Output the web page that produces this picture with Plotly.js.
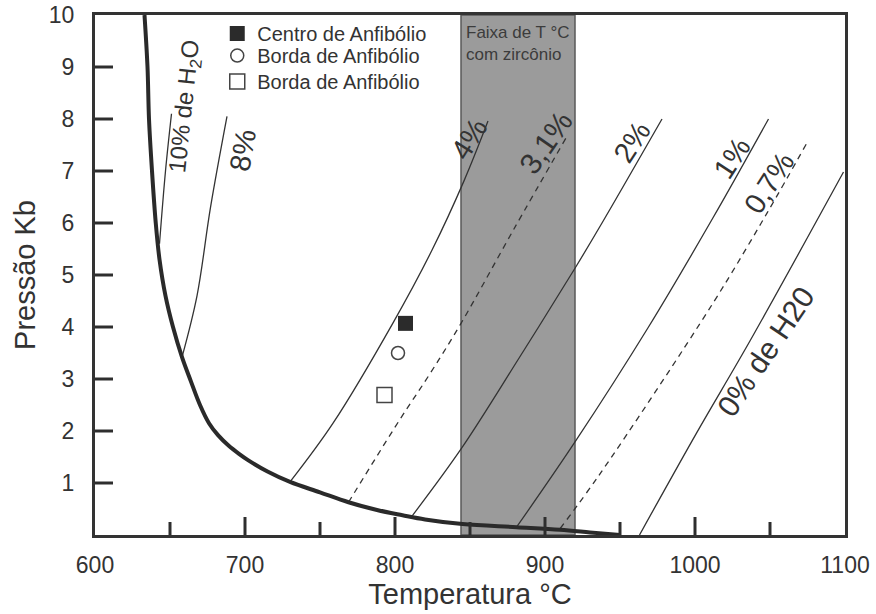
<!DOCTYPE html>
<html>
<head>
<meta charset="utf-8">
<script src="https://cdn.plot.ly/plotly-3.0.1.min.js"></script>
<style>
  html, body { margin: 0; padding: 0; background: #ffffff; }
  #chart { width: 876px; height: 614px; }
</style>
</head>
<body>
<div id="chart"></div>
<script>
// ---- Data (Temperature °C, Pressure kb) ----
const solidusT = [633, 635, 636, 638, 640.5, 643, 647, 652, 658, 664, 670, 676, 682, 689, 696, 702, 715, 730, 750, 769, 788, 805, 820, 845, 881, 910, 930, 950];
const solidusP = [10, 9, 8, 7, 6, 5.3, 4.6, 4.0, 3.42, 2.95, 2.5, 2.15, 1.92, 1.72, 1.56, 1.44, 1.22, 1.02, 0.82, 0.63, 0.48, 0.38, 0.30, 0.21, 0.15, 0.10, 0.05, 0];

const h10T = [643, 647, 651];
const h10P = [5.6, 7.0, 8.1];
const h8T = [658, 668, 677, 688];
const h8P = [3.42, 4.6, 6.3, 8.05];
const h4T = [730, 758.7, 798.7, 824.7, 846, 862];
const h4P = [1.02, 2.15, 4.08, 5.48, 6.81, 7.96];
const h31T = [769, 803, 823.5, 844, 879, 914.5];
const h31P = [0.63, 2.21, 3.11, 4.07, 5.87, 7.66];
const h2T = [811, 844.4, 882, 920, 938, 978];
const h2P = [0.35, 1.67, 3.37, 5.13, 6.0, 8.0];
const h1T = [881, 920, 969, 1012, 1049];
const h1P = [0.15, 1.79, 4.0, 6.1, 8.0];
const h07T = [910, 937, 1012, 1048, 1075];
const h07P = [0.12, 1.19, 4.46, 6.19, 7.56];
const h0T = [963, 1001, 1037, 1099];
const h0P = [0, 1.96, 3.75, 6.98];

const sampleNames = ["Centro de Anfibólio", "Borda de Anfibólio", "Borda de Anfibólio"];
const sampleT = [807, 802, 793];
const sampleP = [4.07, 3.5, 2.69];

const zirconBand = [844, 920];
const bandLabel = "Faixa de T °C<br>com zircônio";

const lineLabels = ["10% de H<sub>2</sub>O", "8%", "4%", "3,1%", "2%", "1%", "0,7%", "0% de H20"];
const lineLabelT = [660, 698.7, 849.3, 900.7, 958, 1024.7, 1049.3, 1047.3];
const lineLabelP = [8.23, 7.40, 7.62, 7.54, 7.56, 7.25, 6.77, 3.52];
const lineLabelAngle = [-84, -80, -58, -55, -57, -57, -57, -56];
const lineLabelSize = [24, 29, 29, 30, 29, 29, 29, 30];

const xTicks = [600, 700, 800, 900, 1000, 1100];
const xInnerTicks = [700, 800, 900, 1000];
const xMinorTicks = [650, 750, 850, 950, 1050];
const yTicks = [1, 2, 3, 4, 5, 6, 7, 8, 9, 10];
const xRange = [600, 1100];
const yRange = [0, 10];

// ---- Styling ----
const INK = "#333333";
const TICK_INK = "#2e2e2e";
const FONT = "Arial, 'Liberation Sans', Helvetica, sans-serif";
const PLOT_W = 750, PLOT_H = 520;          // plot area size in px
const MAJOR_LEN = 18, MINOR_LEN = 13;      // inward tick lengths in px

function thin(T, P, dashed) {
  return {
    x: T, y: P, type: "scatter", mode: "lines", showlegend: false, hoverinfo: "skip",
    line: { color: INK, width: 1.3, shape: "spline", smoothing: 1, dash: dashed ? "6px,5px" : "solid" }
  };
}

const traces = [
  thin(h10T, h10P), thin(h8T, h8P), thin(h4T, h4P), thin(h31T, h31P, true),
  thin(h2T, h2P), thin(h1T, h1P), thin(h07T, h07P, true), thin(h0T, h0P),
  {
    x: solidusT, y: solidusP, type: "scatter", mode: "lines", showlegend: false, hoverinfo: "skip",
    line: { color: "#2a2a2a", width: 4, shape: "spline", smoothing: 1 }
  },
  {
    x: [sampleT[0]], y: [sampleP[0]], name: sampleNames[0], type: "scatter", mode: "markers", legend: "legend",
    marker: { symbol: "square", size: 15, color: "#2b2b2b", line: { width: 0 } }
  },
  {
    x: [sampleT[1]], y: [sampleP[1]], name: sampleNames[1], type: "scatter", mode: "markers", legend: "legend2",
    marker: { symbol: "circle-open", size: 13, color: "#444444", line: { width: 1.5, color: "#444444" } }
  },
  {
    x: [sampleT[2]], y: [sampleP[2]], name: sampleNames[2], type: "scatter", mode: "markers", legend: "legend3",
    marker: { symbol: "square-open", size: 15, color: "#444444", line: { width: 1.5, color: "#444444" } }
  }
];

const annotations = lineLabels.map((t, i) => ({
  x: lineLabelT[i], y: lineLabelP[i], xref: "x", yref: "y", text: t, showarrow: false,
  textangle: lineLabelAngle[i], font: { family: FONT, size: lineLabelSize[i], color: INK }
}));
annotations.push({
  x: zirconBand[0], y: 10, xref: "x", yref: "y", text: bandLabel, showarrow: false,
  xanchor: "left", yanchor: "top", align: "left", xshift: 3, yshift: -6,
  font: { family: FONT, size: 17, color: "#3c3c3c" }
});

function legendAt(y) {
  return {
    x: 0.163, y: y, xanchor: "left", yanchor: "top",
    bgcolor: "rgba(0,0,0,0)", borderwidth: 0,
    font: { family: FONT, size: 20, color: INK }, itemsizing: "trace"
  };
}

// inward-pointing tick marks, built from the tick arrays
const tickShapes = []
  .concat(xInnerTicks.map(v => ({
    type: "line", xref: "x", yref: "paper", x0: v, x1: v, y0: 0, y1: MAJOR_LEN / PLOT_H,
    line: { color: TICK_INK, width: 3 }, layer: "above"
  })))
  .concat(xMinorTicks.map(v => ({
    type: "line", xref: "x", yref: "paper", x0: v, x1: v, y0: 0, y1: MINOR_LEN / PLOT_H,
    line: { color: TICK_INK, width: 3 }, layer: "above"
  })))
  .concat(yTicks.filter(v => v < yRange[1]).map(v => ({
    type: "line", xref: "paper", yref: "y", x0: 0, x1: MAJOR_LEN / PLOT_W, y0: v, y1: v,
    line: { color: TICK_INK, width: 3 }, layer: "above"
  })));

const layout = {
  width: 876, height: 614,
  margin: { l: 95, r: 31, t: 15, b: 79, pad: 0 },
  paper_bgcolor: "#ffffff", plot_bgcolor: "#ffffff",
  font: { family: FONT, color: INK },
  showlegend: true,
  legend: legendAt(1.002),
  legend2: legendAt(0.9596),
  legend3: legendAt(0.9096),
  xaxis: {
    range: xRange, tickmode: "array", tickvals: xTicks, ticktext: xTicks.map(String),
    ticks: "outside", ticklen: 7, tickwidth: 1, tickcolor: "rgba(0,0,0,0)",
    showline: true, linewidth: 3, linecolor: INK, mirror: true,
    showgrid: false, zeroline: false, automargin: false,
    tickfont: { family: FONT, size: 23, color: INK },
    title: { text: "Temperatura °C", font: { family: FONT, size: 29, color: INK }, standoff: 0 }
  },
  yaxis: {
    range: yRange, tickmode: "array", tickvals: yTicks, ticktext: yTicks.map(String),
    ticks: "outside", ticklen: 13, tickwidth: 1, tickcolor: "rgba(0,0,0,0)",
    showline: true, linewidth: 3, linecolor: INK, mirror: true,
    showgrid: false, zeroline: false, automargin: false,
    tickfont: { family: FONT, size: 23, color: INK },
    title: { text: "Pressão Kb", font: { family: FONT, size: 29, color: INK }, standoff: 5 }
  },
  shapes: [{
    type: "rect", xref: "x", yref: "y", layer: "below",
    x0: zirconBand[0], x1: zirconBand[1], y0: yRange[0], y1: yRange[1],
    fillcolor: "#9b9b9b", line: { color: "#5a5a5a", width: 1.5 }
  }].concat(tickShapes),
  annotations: annotations
};

Plotly.newPlot("chart", traces, layout, { staticPlot: true, displayModeBar: false });
</script>
</body>
</html>
